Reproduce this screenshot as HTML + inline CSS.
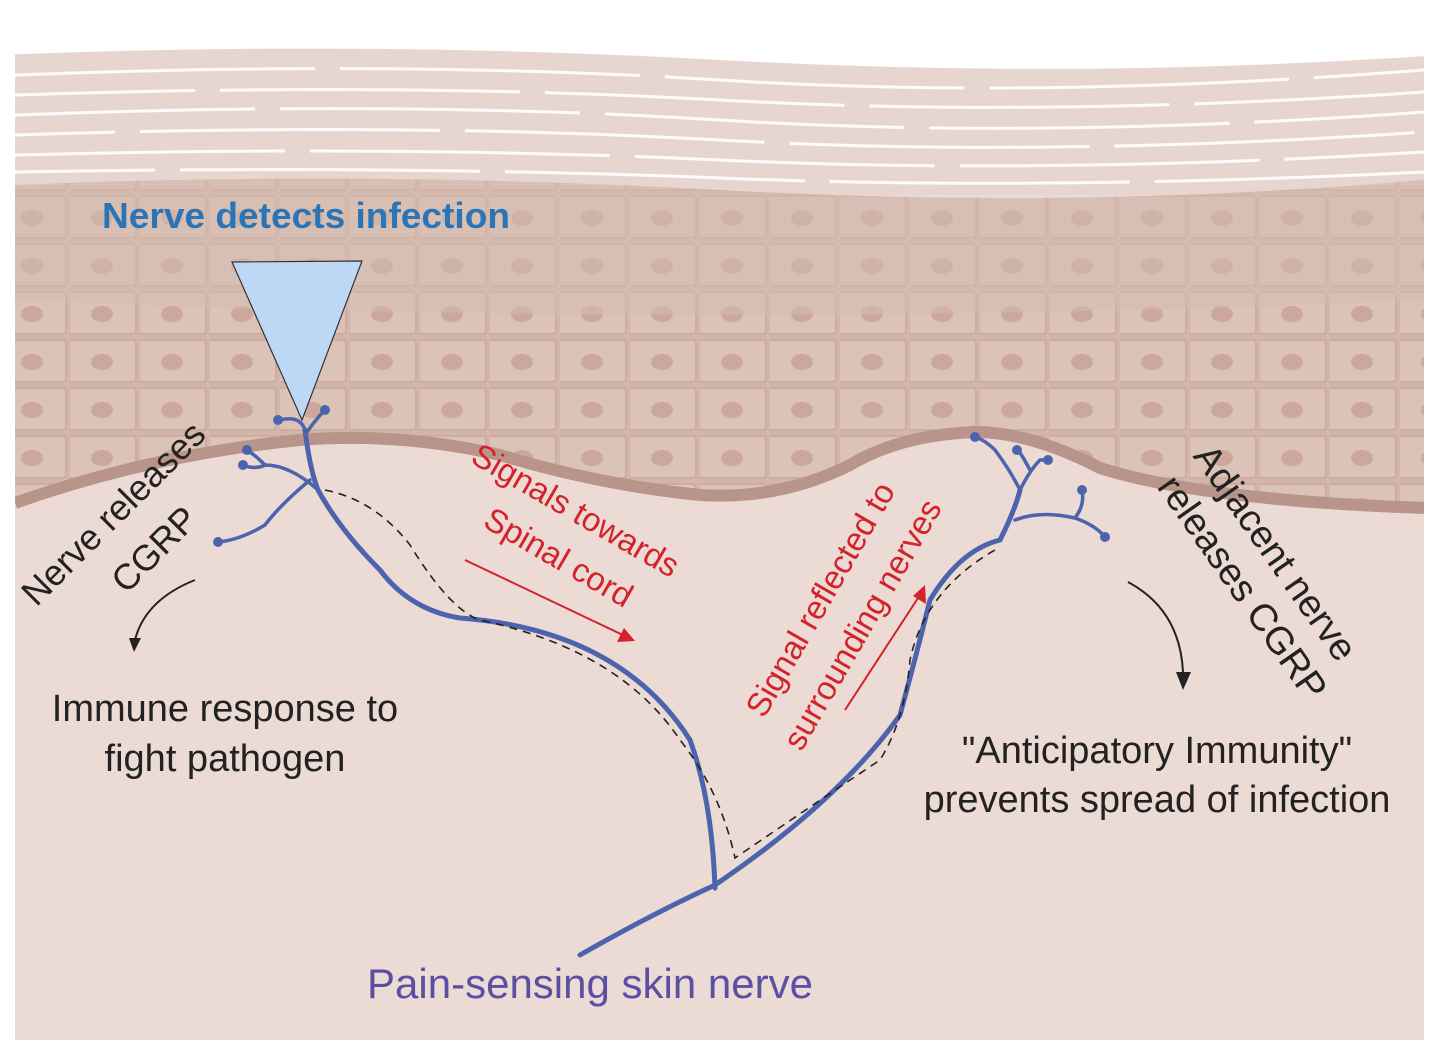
<!DOCTYPE html>
<html><head><meta charset="utf-8"><style>
html,body{margin:0;padding:0;background:#fff}
svg{display:block}
text{font-family:"Liberation Sans",sans-serif}
</style></head><body>
<svg width="1440" height="1062" viewBox="0 0 1440 1062" xmlns="http://www.w3.org/2000/svg">
<defs>
<clipPath id="c"><rect x="15" y="20" width="1409" height="1020"/></clipPath>
<pattern id="cells" x="0" y="0" width="70" height="48" patternUnits="userSpaceOnUse">
<rect width="70" height="48" fill="#d3b5aa"/>
<path d="M2 4 h60 q4 0 4 4 v34 q0 4 -4 4 h-60 q-4 0 -4-4 v-34 q0-4 4-4z" fill="#dcc3b8" stroke="#c9a89c" stroke-width="1.5"/>
<ellipse cx="32" cy="26" rx="11" ry="8" fill="#cba89b"/>
</pattern>
</defs>
<g clip-path="url(#c)">
<rect x="0" y="0" width="1440" height="1062" fill="#ecdbd4"/>
<path d="M0 20 H1440 V190 H0Z" fill="#fff"/>
<path d="M0 55 Q360 40 720 60 T1440 55 V195 H0Z" fill="#e6d6cf"/>
<g stroke="#fff" stroke-width="3" fill="none" opacity="0.95" stroke-dasharray="300,25">
<path d="M15 75 Q400 60 720 80 T1424 70"/>
<path d="M15 95 Q400 82 720 100 T1424 92" stroke-dashoffset="120"/>
<path d="M15 115 Q400 100 720 120 T1424 112" stroke-dashoffset="60"/>
<path d="M15 135 Q400 122 720 140 T1424 132" stroke-dashoffset="200"/>
<path d="M15 155 Q400 145 720 160 T1424 152" stroke-dashoffset="30"/>
<path d="M15 172 Q400 165 720 178 T1424 172" stroke-dashoffset="160"/>
</g>
<path d="M15 185 Q360 170 720 190 T1424 180 V508 Q1200 500 1100 468 Q1030 432 975 432 Q900 435 850 465 Q780 500 700 495 Q600 485 500 455 Q400 432 300 440 Q150 455 15 503Z" fill="url(#cells)"/>
<path d="M15 185 Q360 170 720 190 T1424 180 V300 Q720 330 15 300Z" fill="#d6bcb1" opacity="0.55"/>
<path d="M1424 508 Q1200 500 1100 468 Q1030 432 975 432 Q900 435 850 465 Q780 500 700 495 Q600 485 500 455 Q400 432 300 440 Q150 455 15 503" fill="none" stroke="#b9948a" stroke-width="12"/>
<path d="M1424 515 Q1200 507 1100 475 Q1030 439 975 439 Q900 442 850 472 Q780 507 700 502 Q600 492 500 462 Q400 439 300 447 Q150 462 15 510 V1062 H1424Z" fill="#ecdbd4"/>
</g>
<polygon points="232,262 362,261 302,420" fill="#bcd8f5" stroke="#333" stroke-width="1.2"/>
<text x="102" y="228" font-size="36" font-weight="bold" fill="#2b74b6" textLength="408" lengthAdjust="spacingAndGlyphs">Nerve detects infection</text>
<g fill="none" stroke="#4c63ad" stroke-linecap="round" stroke-width="5">
<path d="M305 430 Q310 470 318 490 Q340 530 380 570 Q410 610 460 618 Q620 630 690 740 Q712 800 715 888"/>
<path d="M580 955 Q650 915 715 885 Q840 800 900 715 Q915 660 930 600 Q960 550 1000 540 Q1015 510 1020 490"/>
</g>
<g fill="none" stroke="#4c63ad" stroke-linecap="round" stroke-width="3.5">
<path d="M305 430 Q300 415 280 420"/>
<path d="M305 435 Q315 420 325 410"/>
<path d="M318 490 Q290 465 265 465 Q255 470 243 465"/>
<path d="M265 465 Q255 455 247 450"/>
<path d="M310 480 Q280 505 265 525 Q240 540 218 542"/>
<path d="M1020 490 Q1010 470 995 450 Q985 440 975 437"/>
<path d="M1020 490 Q1030 470 1040 460 L1048 460"/>
<path d="M1030 470 Q1022 455 1018 450"/>
<path d="M1015 520 Q1040 510 1075 518 Q1095 525 1105 537"/>
<path d="M1075 518 Q1085 505 1082 490"/>
</g>
<g fill="#4c63ad">
<circle cx="278" cy="420" r="5"/><circle cx="325" cy="410" r="5"/><circle cx="243" cy="465" r="5"/><circle cx="247" cy="450" r="5"/><circle cx="218" cy="542" r="5"/>
<circle cx="975" cy="437" r="5"/><circle cx="1048" cy="460" r="5"/><circle cx="1017" cy="450" r="5"/><circle cx="1105" cy="537" r="5"/><circle cx="1082" cy="490" r="5"/>
</g>
<path d="M325 490 Q375 500 410 545 Q450 610 480 620 Q620 650 680 740 Q720 790 735 858 Q820 800 880 760 Q905 720 910 660 Q925 590 995 550" fill="none" stroke="#222" stroke-width="1.6" stroke-dasharray="8,6"/>
<line x1="465" y1="560" x2="625" y2="636" stroke="#d4222a" stroke-width="2"/>
<polygon points="635,641 617,642 624,628" fill="#d4222a"/>
<line x1="845" y1="710" x2="920" y2="595" stroke="#d4222a" stroke-width="2"/>
<polygon points="925,585 926,604 913,596" fill="#d4222a"/>
<path d="M195 580 Q145 600 135 640" fill="none" stroke="#222" stroke-width="2"/>
<polygon points="129,638 141,638 134,652" fill="#222"/>
<path d="M1128 582 Q1180 610 1183 672" fill="none" stroke="#222" stroke-width="2"/>
<polygon points="1176,672 1191,672 1183,690" fill="#222"/>
<g font-size="36" fill="#222" text-anchor="middle">
<text transform="translate(122,522) rotate(-45)">Nerve releases</text>
<text transform="translate(163,558) rotate(-45)">CGRP</text>
</g>
<g font-size="33" fill="#d4222a" text-anchor="middle">
<text transform="translate(570,520) rotate(30)">Signals towards</text>
<text transform="translate(553,567) rotate(30)">Spinal cord</text>
<text transform="translate(830,605) rotate(-60)">Signal reflected  to</text>
<text transform="translate(872,630) rotate(-60)">surrounding nerves</text>
</g>
<g font-size="38" fill="#222" text-anchor="middle">
<text transform="translate(1265,560) rotate(55)">Adjacent nerve</text>
<text transform="translate(1232,595) rotate(55)">releases CGRP</text>
</g>
<g font-size="38" fill="#222" text-anchor="middle">
<text x="225" y="721">Immune response to</text>
<text x="225" y="771">fight pathogen</text>
<text x="1157" y="763">"Anticipatory Immunity"</text>
<text x="1157" y="812">prevents spread of infection</text>
</g>
<text x="590" y="998" font-size="42" fill="#5a4fa3" text-anchor="middle">Pain-sensing skin nerve</text>
</svg>
</body></html>
